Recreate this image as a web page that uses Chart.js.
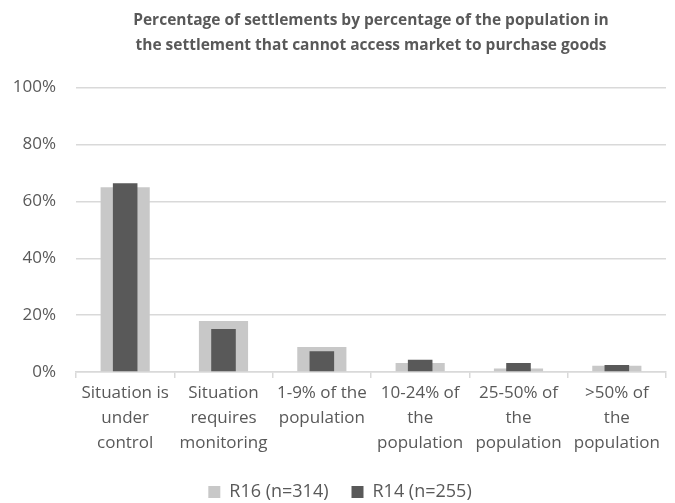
<!DOCTYPE html>
<html>
<head>
<meta charset="utf-8">
<script src="https://cdn.jsdelivr.net/npm/chart.js@4"></script>
<style>
  html, body { margin: 0; padding: 0; background: #fff; }
  #wrap { width: 675px; height: 503px; }
</style>
</head>
<body>
<div id="wrap"><canvas id="marketChart" width="675" height="503"></canvas></div>
<script>
const categories = [
    ['Situation is', 'under', 'control'],
    ['Situation', 'requires', 'monitoring'],
    ['1-9% of the', 'population'],
    ['10-24% of', 'the', 'population'],
    ['25-50% of', 'the', 'population'],
    ['>50% of', 'the', 'population']
];
const r16Values = [65.0, 17.9, 8.8, 3.2, 1.2, 2.2];
const r14Values = [66.4, 15.1, 7.3, 4.3, 3.2, 2.5];
const yTicks = [0, 20, 40, 60, 80, 100];

const textColor = '#595959';
const gridColor = '#d9d9d9';

Chart.defaults.font.family = '"Open Sans", "Noto Sans", sans-serif';
Chart.defaults.color = textColor;

const marketChart = new Chart(document.getElementById('marketChart'), {
    type: 'bar',
    data: {
        labels: categories,
        datasets: [
            { label: 'R16 (n=314)', data: r16Values, backgroundColor: '#c8c8c8', grouped: false,
              barPercentage: 0.5, categoryPercentage: 1, order: 1 },
            { label: 'R14 (n=255)', data: r14Values, backgroundColor: '#595959', grouped: false,
              barPercentage: 0.25, categoryPercentage: 1, order: 0 }
        ]
    },
    options: {
        responsive: false,
        animation: false,
        layout: { padding: { top: 8, right: 9, left: 14, bottom: -8 } },
        plugins: {
            title: {
                display: true,
                fullSize: false,
                text: ['Percentage of settlements by percentage of the population in',
                       'the settlement that cannot access market to purchase goods'],
                color: textColor,
                font: { size: 15.5, weight: 'bold', lineHeight: 1.6 },
                padding: { top: 0, bottom: 30 }
            },
            legend: {
                position: 'bottom',
                labels: {
                    sort: (a, b) => a.datasetIndex - b.datasetIndex,
                    color: textColor,
                    font: { size: 18 },
                    boxWidth: 12, boxHeight: 12,
                    padding: 23
                }
            },
            tooltip: { enabled: false }
        },
        scales: {
            x: {
                afterFit: axis => { axis.height += 1; },
                grid: { offset: true, drawOnChartArea: false, color: gridColor, tickLength: 6, tickColor: gridColor, lineWidth: 1.5 },
                border: { color: gridColor, width: 1.5 },
                ticks: { color: textColor, font: { size: 17, lineHeight: 1.47 }, maxRotation: 0, autoSkip: false, padding: 3 }
            },
            y: {
                min: 0, max: 100,
                afterBuildTicks: axis => { axis.ticks = yTicks.map(v => ({ value: v })); },
                afterFit: axis => { axis.width = 62; },
                grid: { color: gridColor, drawTicks: false, lineWidth: 1.5 },
                border: { display: false },
                ticks: { color: textColor, font: { size: 17 }, padding: 20, callback: v => v + '%' }
            }
        }
    }
});
</script>
</body>
</html>
